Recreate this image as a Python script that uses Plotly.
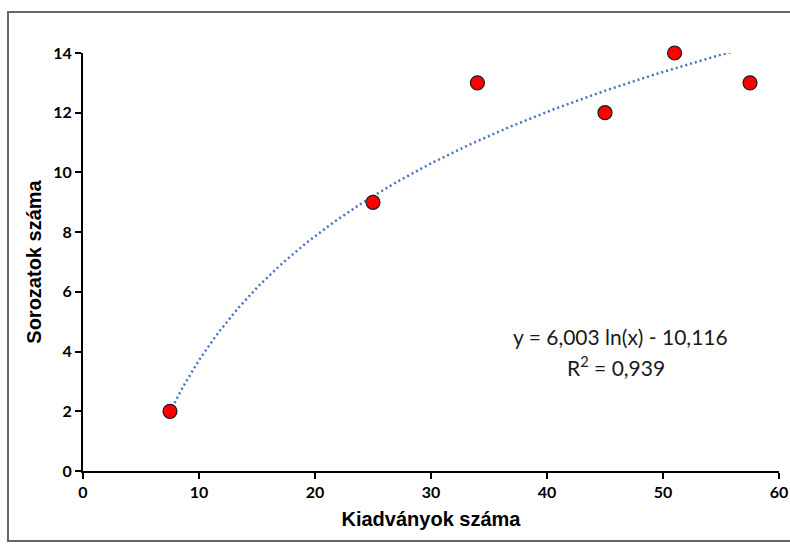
import numpy as np
import plotly.graph_objects as go

# Data
kiadvanyok = [7.5, 25, 34, 45, 51, 57.5]
sorozatok = [2, 9, 13, 12, 14, 13]
x_ticks = [0, 10, 20, 30, 40, 50, 60]
y_ticks = [0, 2, 4, 6, 8, 10, 12, 14]
coef_a, coef_b = 6.003, -10.116
eq_text = "y = 6,003 ln(x) - 10,116"
r2_text = "R<sup>2</sup> = 0,939"

trend_x = np.linspace(min(kiadvanyok), max(kiadvanyok), 200)
trend_y = coef_a * np.log(trend_x) + coef_b

fig = go.Figure()
fig.add_trace(go.Scatter(
    x=trend_x, y=trend_y, mode="lines",
    line=dict(color="#4472C4", width=2.5, dash="2px,3px"),
    hoverinfo="skip", showlegend=False, cliponaxis=False))
fig.add_trace(go.Scatter(
    x=kiadvanyok, y=sorozatok, mode="markers",
    marker=dict(color="#FF0000", size=14, line=dict(color="#1a1a1a", width=1.2)),
    showlegend=False, cliponaxis=False))

axis_common = dict(
    showgrid=False, zeroline=False, showline=True, linecolor="black", linewidth=2,
    ticks="outside", ticklen=6, tickwidth=2, tickcolor="black", automargin=False,
    tickfont=dict(family="Lato", size=16, color="black", weight="bold"),
)
fig.update_xaxes(range=[0, 60], tickvals=x_ticks, **axis_common,
                 title=dict(text="Kiadványok száma", standoff=12,
                            font=dict(family="Liberation Sans", size=20, color="black", weight="bold")))
fig.update_yaxes(range=[0, 14], tickvals=y_ticks, **axis_common,
                 title=dict(text="Sorozatok száma", standoff=6,
                            font=dict(family="Liberation Sans", size=20, color="black", weight="bold")))

fig.add_annotation(xref="paper", yref="paper", x=0.7716, y=0.3206, text=eq_text,
                   xanchor="center", yanchor="middle",
                   showarrow=False, font=dict(family="Lato", size=21, color="#1a1a1a"))
fig.add_annotation(xref="paper", yref="paper", x=0.7665, y=0.251, text=r2_text,
                   xanchor="center", yanchor="middle",
                   showarrow=False, font=dict(family="Lato", size=21, color="#1a1a1a"))

fig.add_shape(type="rect", xref="paper", yref="paper",
              x0=-0.1078, x1=1.06, y0=-0.1675, y1=1.098,
              line=dict(color="#666666", width=2), layer="below")

fig.update_layout(
    width=790, height=546,
    margin=dict(l=83, r=11, t=53, b=75, autoexpand=False),
    paper_bgcolor="white", plot_bgcolor="white",
)
fig.write_html("out.html", config={"displayModeBar": False},
               post_script="document.body.style.margin='0px';")
